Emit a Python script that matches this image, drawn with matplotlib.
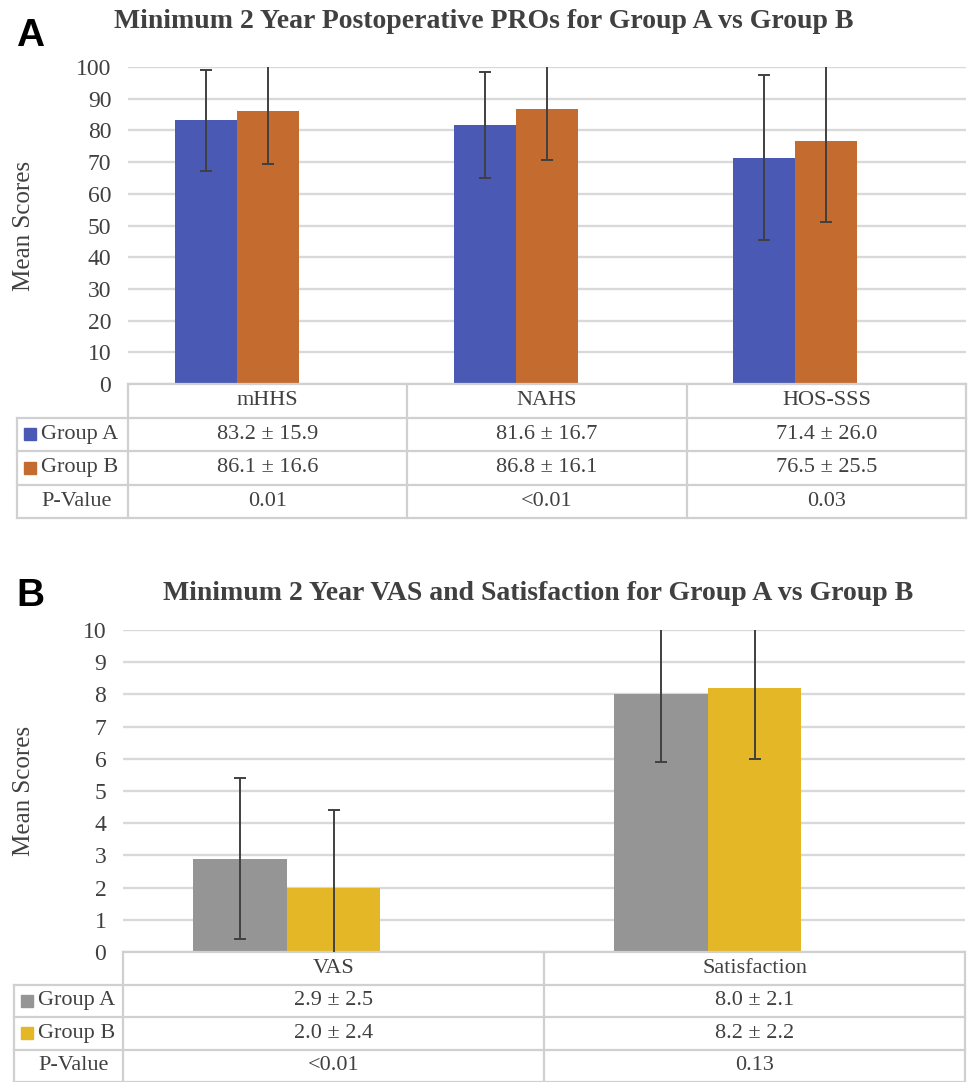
import numpy as np
import matplotlib
matplotlib.use("Agg")
from matplotlib import pyplot as plt

plt.rcParams['font.family'] = ['Liberation Serif', 'DejaVu Serif']

# panel A data
pro_cats = ["mHHS", "NAHS", "HOS-SSS"]
pro_a_mean = [83.2, 81.6, 71.4]
pro_a_sd = [15.9, 16.7, 26.0]
pro_b_mean = [86.1, 86.8, 76.5]
pro_b_sd = [16.6, 16.1, 25.5]
pro_pvals = ["0.01", "<0.01", "0.03"]

# panel B data
vas_cats = ["VAS", "Satisfaction"]
vas_a_mean = [2.9, 8.0]
vas_a_sd = [2.5, 2.1]
vas_b_mean = [2.0, 8.2]
vas_b_sd = [2.4, 2.2]
vas_pvals = ["<0.01", "0.13"]

row_names = ["Group A", "Group B", "P-Value"]

W, H = 968, 1082
fig = plt.figure(figsize=(W/100, H/100), dpi=100)

GRID = '#d9d9d9'
LINE = '#d0d0d0'
TXT = '#404040'


def px_axes(left, top, right, bottom):
    return fig.add_axes([left/W, (H-bottom)/H, (right-left)/W, (bottom-top)/H])


def draw_panel(ax, cats, a_mean, a_sd, b_mean, b_sd, pvals, colors, ymax, step,
               row_px, lab_px, title, title_x, title_y, letter, letter_y):
    n = len(cats)
    x = np.arange(n)
    w = 0.222
    ax.bar(x - w, a_mean, w, color=colors[0], zorder=2)
    ax.bar(x, b_mean, w, color=colors[1], zorder=2)
    ax.errorbar(x - w, a_mean, yerr=a_sd, fmt='none', ecolor=TXT, elinewidth=1.4,
                capsize=4.5, capthick=1.4, zorder=3)
    ax.errorbar(x, b_mean, yerr=b_sd, fmt='none', ecolor=TXT, elinewidth=1.4,
                capsize=4.5, capthick=1.4, zorder=3)
    ax.set_xlim(-0.5, n - 0.5)
    ax.set_ylim(0, ymax)
    ax.set_yticks(np.arange(0, ymax + step/2, step))
    ax.yaxis.grid(True, color=GRID, lw=1.7, zorder=0)
    ax.set_axisbelow(True)
    ax.set_xticks([])
    for s in ax.spines.values():
        s.set_visible(False)
    ax.tick_params(axis='y', length=0, pad=12, labelsize=17, labelcolor=TXT)
    ax.set_ylabel("Mean Scores", fontsize=18, color=TXT)
    bb = ax.get_position()
    ax.yaxis.set_label_coords((35 - bb.x0*W) / (bb.width*W), 0.5)

    # data table under the plot, in axes fraction
    ah = bb.height * H
    aw = bb.width * W
    h = row_px / ah
    lab = (bb.x0*W - lab_px) / aw
    tr = ax.transAxes
    kw = dict(transform=tr, clip_on=False, color=LINE, lw=1.6)
    ax.plot([0, 1], [0, 0], **kw)
    for r in range(1, 5):
        ax.plot([-lab, 1], [-r*h, -r*h], **kw)
    ax.plot([-lab, -lab], [-h, -4*h], **kw)
    for k in range(n + 1):
        ax.plot([k/n, k/n], [0, -4*h], **kw)
    rows = [[f"{m:.1f} \u00b1 {s:.1f}" for m, s in zip(a_mean, a_sd)],
            [f"{m:.1f} \u00b1 {s:.1f}" for m, s in zip(b_mean, b_sd)],
            pvals]
    for k, c in enumerate(cats):
        ax.text((k + 0.5)/n, -0.5*h, c, transform=tr, ha='center', va='center',
                fontsize=16, color=TXT)
        for r in range(3):
            ax.text((k + 0.5)/n, -(r + 1.5)*h, rows[r][k], transform=tr,
                    ha='center', va='center', fontsize=16, color=TXT)
    tx = -lab + 24/aw
    for r, name in enumerate(row_names):
        ax.text(tx, -(r + 1.5)*h, name, transform=tr, ha='left', va='center',
                fontsize=16, color=TXT)
        if r < 2:
            ax.plot([-lab + 13/aw], [-(r + 1.5)*h], marker='s', ms=8.5,
                    color=colors[r], transform=tr, clip_on=False)

    fig.text(title_x/W, 1 - title_y/H, title, ha='center', va='center',
             fontsize=20, fontweight='bold', color=TXT)
    fig.text(16/W, 1 - letter_y/H, letter, ha='left', va='center', fontsize=28,
             fontweight='bold', family='Liberation Sans', color='black')


ax1 = px_axes(128, 67, 966, 384)
draw_panel(ax1, pro_cats, pro_a_mean, pro_a_sd, pro_b_mean, pro_b_sd, pro_pvals,
           ['#4a5ab4', '#c46c30'], 100, 10, 33.5, 17,
           "Minimum 2 Year Postoperative PROs for Group A vs Group B",
           484, 22, "A", 36)

ax2 = px_axes(123, 630, 965, 952)
draw_panel(ax2, vas_cats, vas_a_mean, vas_a_sd, vas_b_mean, vas_b_sd, vas_pvals,
           ['#959595', '#e3b726'], 10, 1, 32.5, 14,
           "Minimum 2 Year VAS and Satisfaction for Group A vs Group B",
           538, 594, "B", 596)

fig.savefig("out.png", dpi=100)
